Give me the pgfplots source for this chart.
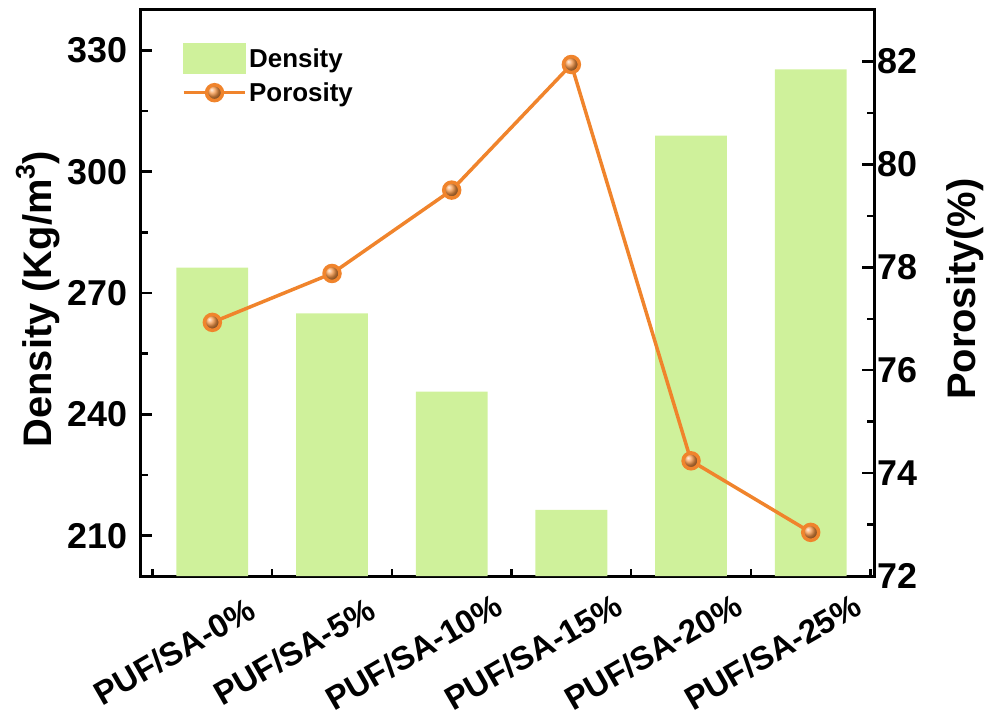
\documentclass[border=0pt]{standalone}
\usepackage{fontspec}
\setmainfont{Liberation Sans}
\usepackage{pgfplots}
\pgfplotsset{compat=1.18}
\definecolor{barg}{RGB}{207,241,155}
\definecolor{org}{RGB}{240,132,44}
\definecolor{orgball}{RGB}{246,150,70}

\begin{document}
\begin{tikzpicture}
\pgfplotsset{
  common/.style={
    scale only axis, width=736pt, height=568pt,
    xmin=-0.6, xmax=5.53,
    /pgf/number format/assume math mode=true,
    tick label style={font=\fontsize{36}{40}\selectfont\bfseries},
    label style={font=\fontsize{40}{46}\selectfont\bfseries},
    axis line style={line width=3pt, -},
    major tick style={line width=2.5pt, black},
    minor tick style={line width=2.5pt, black},
    major tick length=12pt, minor tick length=7pt,
    tick align=inside,
  }
}
\begin{axis}[common, name=ax,
  ymin=200, ymax=340, ytick={210,240,...,330}, minor y tick num=1,
  xtick={0,...,5}, minor xtick={-0.5,0.5,...,5.5},
  xticklabels={PUF/SA-0\%,PUF/SA-5\%,PUF/SA-10\%,PUF/SA-15\%,PUF/SA-20\%,PUF/SA-25\%},
  xticklabel style={font=\fontsize{33}{38}\selectfont\bfseries, xshift=-38pt, yshift=-76pt, rotate=30, anchor=center},
  yticklabel style={xshift=-10pt},
  xtick pos=bottom, ytick pos=left,
  ylabel={Density (Kg/m\raisebox{0.42em}{\fontsize{27}{27}\selectfont 3})},
  ylabel style={at={(axis description cs:-0.14,0.489)}, anchor=center},
]
\addplot[ybar, bar width=0.6, fill=barg, draw=none, bar shift=0pt] coordinates {(0,276.3) (1,265.0) (2,245.6) (3,216.4) (4,308.9) (5,325.3)};
\end{axis}
\begin{axis}[common, axis x line=none, axis y line*=right,
  ymin=72, ymax=83, ytick={72,74,...,82}, minor y tick num=1,
  ylabel={Porosity(\%)},
  ylabel style={at={(axis description cs:1.124,0.507)}, anchor=center},
  legend style={at={(axis description cs:0.052,0.945)}, anchor=north west, draw=none, fill=none,
    font=\fontsize{26}{30}\selectfont\bfseries, row sep=7pt, cells={anchor=west},
    /tikz/every even column/.append style={column sep=10pt}},
]
\addlegendimage{legend image code/.code={\fill[barg] (0pt,-15pt) rectangle (62pt,15pt);}}
\addlegendentry{Density}
\addplot[org, line width=3.5pt, mark=ball, mark size=8pt, mark options={ball color=orgball},
  legend image code/.code={\draw[mark repeat=2,mark phase=2] plot coordinates {(0pt,0pt) (31pt,0pt) (62pt,0pt)};}]
  coordinates {(0,76.93) (1,77.88) (2,79.50) (3,81.94) (4,74.24) (5,72.85)};
\addlegendentry{Porosity}
\end{axis}
\path ([xshift=-141pt,yshift=-146pt]ax.south west) rectangle ([xshift=110pt,yshift=10pt]ax.north east);
\end{tikzpicture}
\end{document}
